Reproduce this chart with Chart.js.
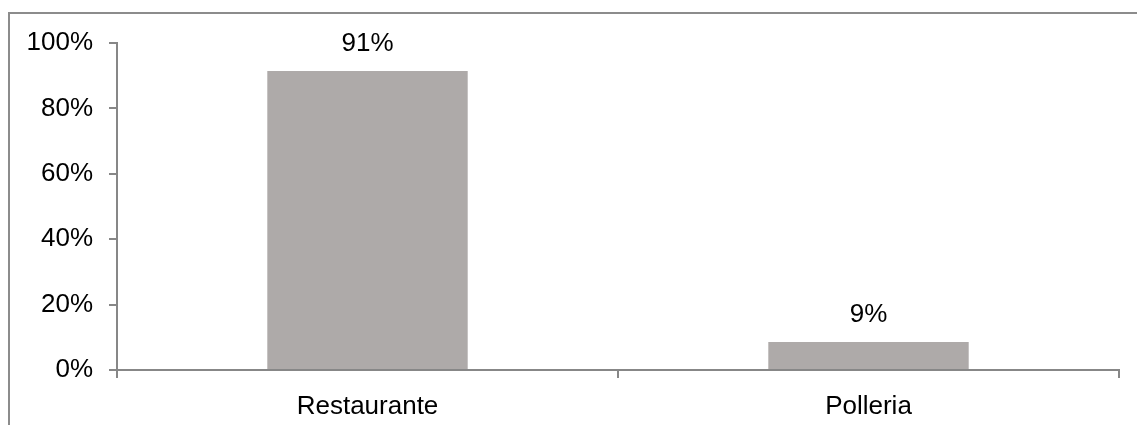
<!DOCTYPE html>
<html>
<head>
<meta charset="utf-8">
<script src="https://cdn.jsdelivr.net/npm/chart.js@4/dist/chart.umd.min.js"></script>
<style>
  html, body { margin: 0; padding: 0; background: #fff; }
  #wrap { position: relative; width: 1137px; height: 425px; overflow: hidden; }
  #frame { position: absolute; left: 8px; top: 12px; width: 1200px; height: 500px;
           border-top: 2px solid #8c8c8c; border-left: 2px solid #8c8c8c; }
  #chart { position: absolute; left: 0; top: 0; }
</style>
</head>
<body>
<div id="wrap">
  <div id="frame"></div>
  <canvas id="chart" width="1137" height="425"></canvas>
</div>
<script>
// data
const categories = ['Restaurante', 'Polleria'];
const shares     = [91.4, 8.6];
const shareLabels = ['91%', '9%'];
const yTicks     = [0, 20, 40, 60, 80, 100];

const AXIS = '#878787';
const BAR  = '#aeaaa9';
const FONT = { family: "'Liberation Sans', Arial, sans-serif", size: 26 };

/** Draw the value label above each bar. */
const barLabels = {
  id: 'barLabels',
  afterDatasetsDraw(chart) {
    const ctx = chart.ctx;
    const meta = chart.getDatasetMeta(0);
    ctx.save();
    ctx.font = `${FONT.size}px ${FONT.family}`;
    ctx.fillStyle = '#000';
    ctx.textAlign = 'center';
    ctx.textBaseline = 'middle';
    meta.data.forEach((bar, i) => {
      ctx.fillText(shareLabels[i], bar.x, bar.y - 27);
    });
    ctx.restore();
  }
};

new Chart(document.getElementById('chart'), {
  type: 'bar',
  data: {
    labels: categories,
    datasets: [{ data: shares, backgroundColor: BAR, borderWidth: 0,
                 categoryPercentage: 0.4, barPercentage: 1 }],
  },
  options: {
    responsive: false, animation: false,
    layout: { padding: { top: 43, right: 18, bottom: 0, left: 0 } },
    plugins: { legend: { display: false }, tooltip: { enabled: false } },
    scales: {
      x: {
        offset: true,
        afterFit: s => { s.height = 55; },
        border: { color: AXIS, width: 2 },
        grid: { drawOnChartArea: false, drawTicks: true, tickLength: 8, color: AXIS, lineWidth: 2, offset: true },
        ticks: { color: '#000', font: FONT, padding: 13 },
      },
      y: {
        min: 0, max: 100,
        afterFit: s => { s.width = 117; },
        afterBuildTicks: s => { s.ticks = yTicks.map(v => ({ value: v })); },
        border: { color: AXIS, width: 2 },
        grid: { drawOnChartArea: false, drawTicks: true, tickLength: 8, color: AXIS, lineWidth: 2 },
        ticks: { color: '#000', font: FONT, padding: 16, callback: v => v + '%' },
      },
    },
  },
  plugins: [barLabels],
});
</script>
</body>
</html>
